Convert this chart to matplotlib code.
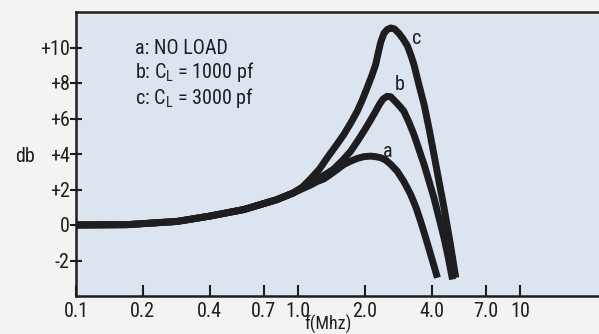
import matplotlib
matplotlib.use("Agg")
import matplotlib.pyplot as plt
from matplotlib import font_manager

# ---------------- data ----------------
freq_a = [0.1, 0.17, 0.285, 0.4, 0.57, 0.8, 0.95, 1.05, 1.14, 1.22, 1.31, 1.40, 1.50,
          1.61, 1.73, 1.85, 1.98, 2.12, 2.24, 2.36, 2.49, 2.62, 2.80, 3.0, 3.22, 3.40,
          3.57, 3.77, 3.96, 4.10, 4.25]
db_a = [0.0, 0.02, 0.2, 0.5, 0.87, 1.42, 1.8, 2.05, 2.25, 2.45, 2.6, 2.85, 3.12,
        3.41, 3.6, 3.75, 3.85, 3.88, 3.85, 3.79, 3.65, 3.41, 3.03, 2.45, 1.72, 1.0,
        0.21, -0.75, -1.66, -2.3, -2.97]

freq_b = [0.1, 0.17, 0.285, 0.4, 0.57, 0.8, 0.95, 1.05, 1.14, 1.22, 1.33, 1.45, 1.59,
          1.73, 1.86, 1.98, 2.11, 2.24, 2.33, 2.42, 2.52, 2.62, 2.75, 2.87, 3.0, 3.16,
          3.33, 3.50, 3.70, 3.90, 4.10, 4.32, 4.55, 4.75, 4.97]
db_b = [0.0, 0.02, 0.2, 0.5, 0.87, 1.42, 1.8, 2.1, 2.35, 2.6, 2.85, 3.15, 3.65,
        4.16, 4.75, 5.28, 5.85, 6.41, 6.8, 7.1, 7.25, 7.22, 6.95, 6.7, 6.41, 5.8,
        5.1, 4.3, 3.41, 2.45, 1.53, 0.4, -0.72, -1.8, -3.07]

freq_c = [0.1, 0.17, 0.285, 0.4, 0.57, 0.8, 0.95, 1.05, 1.14, 1.25, 1.355, 1.48, 1.61,
          1.73, 1.85, 1.95, 2.05, 2.15, 2.24, 2.30, 2.36, 2.44, 2.53, 2.62, 2.72, 2.85,
          2.97, 3.11, 3.22, 3.33, 3.50, 3.70, 3.90, 4.10, 4.32, 4.55, 4.85, 5.14]
db_c = [0.0, 0.02, 0.2, 0.5, 0.87, 1.42, 1.8, 2.15, 2.6, 3.15, 3.79, 4.45, 5.1,
        5.75, 6.41, 7.05, 7.73, 8.4, 9.04, 9.7, 10.3, 10.8, 11.02, 11.1, 11.05, 10.8,
        10.5, 10.1, 9.6, 9.04, 7.95, 6.79, 5.4, 3.97, 2.45, 0.97, -1.0, -2.97]

x_ticks = [0.1, 0.2, 0.4, 0.7, 1.0, 2.0, 4.0, 7.0, 10]
x_tick_labels = ["0.1", "0.2", "0.4", "0.7", "1.0", "2.0", "4.0", "7.0", "10"]
y_ticks = [-2, 0, 2, 4, 6, 8, 10]
y_tick_labels = ["-2", "0", "+2", "+4", "+6", "+8", "+10"]
legend_lines = ["a: NO LOAD", r"b: C$_\mathregular{L}$ = 1000 pf", r"c: C$_\mathregular{L}$ = 3000 pf"]
curve_labels = ["c", "b", "a"]

# ---------------- style ----------------
names = {f.name for f in font_manager.fontManager.ttflist}
fam = "DejaVu Sans"
for cand in ["Liberation Sans Narrow", "Roboto Condensed", "Open Sans Condensed", "Roboto"]:
    if cand in names:
        fam = cand
        break
plt.rcParams["font.family"] = [fam, "DejaVu Sans"]
plt.rcParams["mathtext.fontset"] = "custom"
plt.rcParams["mathtext.rm"] = fam
plt.rcParams["mathtext.it"] = fam
plt.rcParams["mathtext.bf"] = fam

FS = 14.5
ink = "#1e1e20"
W, H = 599, 334
fig = plt.figure(figsize=(W / 100, H / 100), dpi=100, facecolor="#f3f3f1")
ax = fig.add_axes([76 / W, 1 - 296 / H, 1 - 76 / W + 0.002, (296 - 12) / H])
ax.set_facecolor("#dce5ef")

for f, d in ((freq_a, db_a), (freq_b, db_b), (freq_c, db_c)):
    ax.plot(f, d, color=ink, lw=5.0, solid_capstyle="butt", solid_joinstyle="round")

ax.set_xscale("log")
ax.set_xlim(0.1, 23)
ax.set_ylim(-4, 12)
ax.minorticks_off()
ax.set_xticks(x_ticks)
ax.set_xticklabels(x_tick_labels)
ax.set_yticks(y_ticks)
ax.set_yticklabels(y_tick_labels)
ax.tick_params(axis="x", direction="in", length=8, width=1.5, pad=4,
               labelsize=FS, colors=ink)
ax.tick_params(axis="y", direction="inout", length=9, width=1.5, pad=0,
               labelsize=FS, colors=ink)
for s in ("left", "bottom", "top"):
    ax.spines[s].set_linewidth(1.8)
    ax.spines[s].set_color(ink)
ax.spines["right"].set_visible(False)

# legend block (one multi-line text)
fig.text(135 / W, 1 - 39 / H, "\n".join(legend_lines), fontsize=FS, color=ink,
         ha="left", va="top", linespacing=1.12)

# curve labels
for t, (px, py) in zip(curve_labels, [(416.7, 38.3), (400, 85), (388, 151.7)]):
    fig.text(px / W, 1 - py / H, t, fontsize=FS, color=ink, ha="center", va="center")

fig.text(25 / W, 1 - 157 / H, "db", fontsize=FS, color=ink, ha="center", va="center")
fig.text(328 / W, 1 - 324 / H, "f(Mhz)", fontsize=FS - 1.5, color=ink, ha="center", va="center")

fig.savefig("out.png", dpi=100, facecolor=fig.get_facecolor())
